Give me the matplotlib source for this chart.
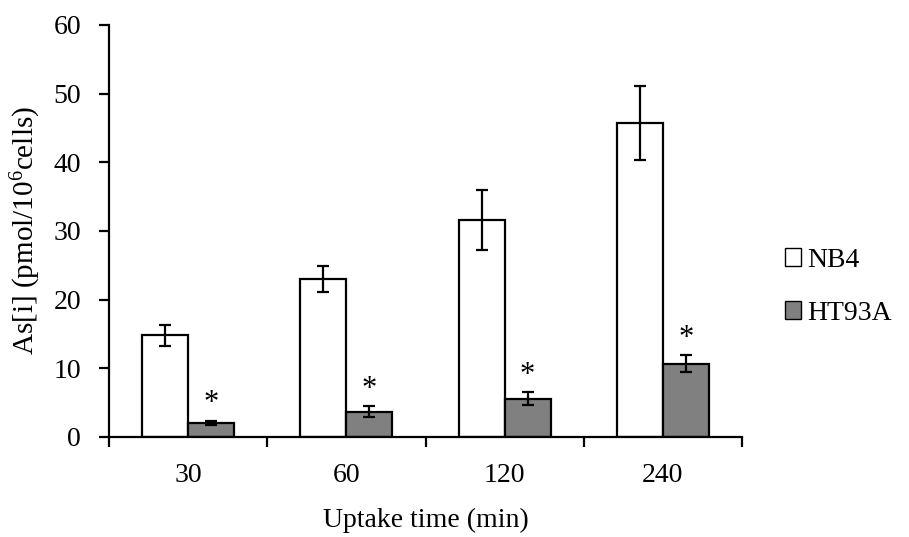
import matplotlib
matplotlib.use("Agg")
import matplotlib.pyplot as plt
import numpy as np

categories = ["30", "60", "120", "240"]
nb4 = [14.8, 23.0, 31.6, 45.7]
nb4_err = [1.5, 1.9, 4.3, 5.4]
ht93a = [2.1, 3.7, 5.6, 10.7]
ht93a_err = [0.3, 0.8, 0.9, 1.3]
series_names = ["NB4", "HT93A"]
yticks = [0, 10, 20, 30, 40, 50, 60]

plt.rcParams['font.family'] = ['Liberation Serif', 'DejaVu Serif']
plt.rcParams['mathtext.fontset'] = 'custom'
plt.rcParams['mathtext.rm'] = 'Liberation Serif'
plt.rcParams['mathtext.it'] = 'Liberation Serif:italic'

FS = 20

fig = plt.figure(figsize=(9.09, 5.37), dpi=100)
ax = fig.add_axes([109/909, 1-437/537, (742-109)/909, (437-25)/537])

x = np.arange(len(categories))
w = 0.29
eb = dict(ecolor='black', elinewidth=1.6, capsize=4.5, capthick=1.6)
b1 = ax.bar(x - w/2, nb4, w, color='white', edgecolor='black', linewidth=1.6,
            yerr=nb4_err, error_kw=eb, label=series_names[0], zorder=2)
b2 = ax.bar(x + w/2, ht93a, w, color='#808080', edgecolor='black', linewidth=1.6,
            yerr=ht93a_err, error_kw=eb, label=series_names[1], zorder=2)

for xi, v, e in zip(x, ht93a, ht93a_err):
    ax.text(xi + w/2, v + e + 0.3, "*", ha='center', va='bottom', fontsize=22)

ax.set_xlim(-0.5, len(categories) - 0.5)
ax.set_ylim(0, 60)
ax.set_yticks(yticks)
ax.set_xticks(x)
ax.set_xticklabels(categories)
ax.set_xticks(np.arange(len(categories) + 1) - 0.5, minor=True)
ax.tick_params(axis='x', which='major', length=0, pad=19, labelsize=FS)
ax.tick_params(axis='x', which='minor', length=7, width=1.6, direction='out')
ax.tick_params(axis='y', length=7, width=1.6, direction='out', labelsize=FS, pad=13)

for s in ['top', 'right']:
    ax.spines[s].set_visible(False)
for s in ['left', 'bottom']:
    ax.spines[s].set_linewidth(1.6)

ax.set_xlabel("Uptake time (min)", fontsize=FS, labelpad=14)
ax.set_ylabel("As[i] (pmol/10$^{6}$cells)", fontsize=21)
ax.yaxis.set_label_coords(-0.105, 0.5)

leg = ax.legend(handles=[b1, b2], labels=series_names, loc='center left',
                bbox_to_anchor=(1.028, 0.365), frameon=False, fontsize=FS,
                handlelength=0.6, handleheight=0.6, handletextpad=0.2,
                labelspacing=1.0)
for p in leg.get_patches():
    p.set_linewidth(1.0)

fig.savefig("out.png", dpi=100)
